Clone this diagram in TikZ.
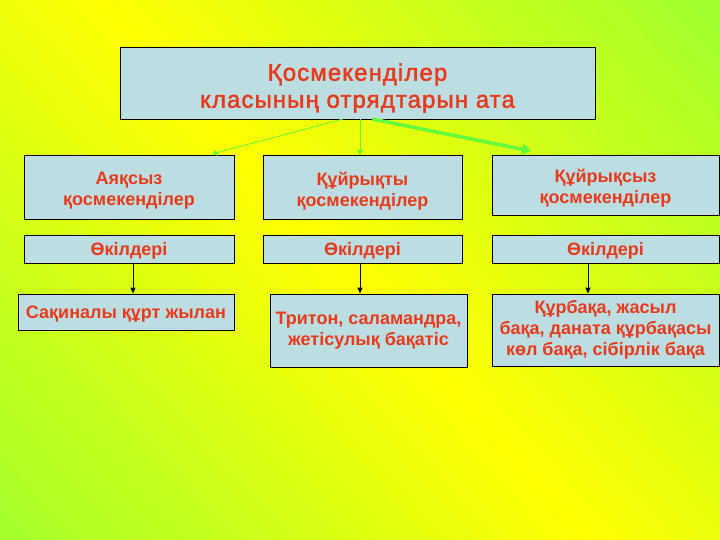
\documentclass[tikz,border=0pt]{standalone}
\usepackage{fontspec}
\setmainfont{Liberation Sans}
\usetikzlibrary{arrows.meta}
\definecolor{bgyellow}{RGB}{255,255,0}
\definecolor{bggreen}{RGB}{150,255,50}
\definecolor{boxfill}{RGB}{188,222,226}
\definecolor{txtred}{RGB}{232,58,26}
\definecolor{arrgreen}{RGB}{102,250,60}
\begin{document}
\begin{tikzpicture}[x=1pt,y=-1pt,
  box/.style={draw=black,line width=0.9pt,fill=boxfill,inner sep=0pt},
  boxtext/.style={text=txtred,align=center,inner sep=0pt,
    font=\fontsize{18}{21}\selectfont\bfseries},
  titletext/.style={text=txtred,align=center,inner sep=0pt,
    font=\fontsize{24}{27}\selectfont\addfontfeature{LetterSpace=4.5,FakeBold=1.8}},
  blackarrow/.style={draw=black,line width=0.9pt,-{Triangle[length=6pt,width=5pt]}},
  greenarrow/.style={draw=arrgreen,line width=0.8pt,-{Triangle[length=5pt,width=6pt]}},
  thickgreen/.style={draw=arrgreen,line width=3.5pt,-{Triangle[length=9pt,width=11pt]}}]
\useasboundingbox (0,0) rectangle (720,540);
\begin{scope}
\clip (0,0) rectangle (720,540);
\begin{scope}[transform canvas={rotate around={42:(345,270)}}]
\shade[left color=bggreen,right color=bggreen,middle color=bgyellow] (-155,-400) rectangle (845,940);
\end{scope}
\end{scope}
% title
\node[box,minimum width=475pt,minimum height=72pt] (title) at (357.5,83) {};
\node[titletext] (titlelbl) at ([yshift=-5pt]title.center) {Қосмекенділер\\класының отрядтарын ата};
% row 1
\node[box,minimum width=210pt,minimum height=64pt] (a1) at (129,187) {};
\node[box,minimum width=199pt,minimum height=64pt] (a2) at (362.5,187) {};
\node[box,minimum width=227pt,minimum height=60pt] (a3) at (605.5,185) {};
\node[boxtext] (a1t) at ([yshift=-4pt]a1.center) {Аяқсыз\\қосмекенділер};
\node[boxtext] (a2t) at ([yshift=-4pt]a2.center) {Құйрықты\\қосмекенділер};
\node[boxtext] (a3t) at ([yshift=-3pt]a3.center) {Құйрықсыз\\қосмекенділер};
% row 2
\node[box,minimum width=210pt,minimum height=28pt,boxtext,text height=13pt,text depth=0pt] (b1) at (129,249) {Өкілдері};
\node[box,minimum width=199pt,minimum height=28pt,boxtext,text height=13pt,text depth=0pt] (b2) at (362.5,249) {Өкілдері};
\node[box,minimum width=227pt,minimum height=28pt,boxtext,text height=13pt,text depth=0pt] (b3) at (605.5,249) {Өкілдері};
% row 3
\node[box,minimum width=216pt,minimum height=36pt,boxtext,text height=13pt,text depth=0pt] (c1) at (126,312) {Сақиналы құрт жылан};
\node[box,minimum width=197pt,minimum height=73pt,boxtext] (c2) at (368.5,330.5) {Тритон, саламандра,\\жетісулық бақатіс};
\node[box,minimum width=227pt,minimum height=72pt,boxtext] (c3) at (605.5,330) {Құрбақа, жасыл\\бақа, даната құрбақасы\\көл бақа, сібірлік бақа};
% green arrows
\coordinate (t1) at (343,119);
\coordinate (t2) at (360,119);
\coordinate (t3) at (372,119);
\coordinate (e1) at (212,154);
\coordinate (e2) at (360,155);
\coordinate (e3) at (531,151);
\draw[greenarrow] (t1) -- (e1);
\draw[greenarrow] (t2) -- (e2);
\draw[thickgreen] (t3) -- (e3);
% black arrows
\draw[blackarrow] (b1.south -| 133,0) -- (c1.north -| 133,0);
\draw[blackarrow] (b2.south -| 360,0) -- (c2.north -| 360,0);
\draw[blackarrow] (b3.south -| 588,0) -- (c3.north -| 588,0);
\end{tikzpicture}
\end{document}
